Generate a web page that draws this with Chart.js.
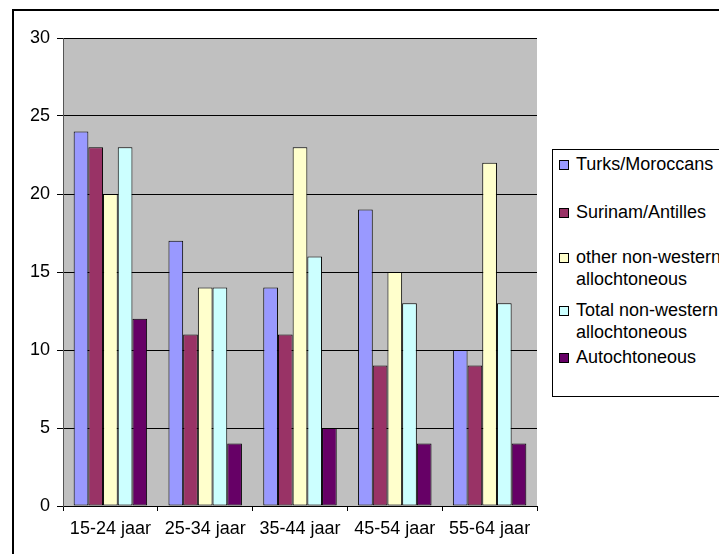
<!DOCTYPE html>
<html>
<head>
<meta charset="utf-8">
<script src="https://cdn.jsdelivr.net/npm/chart.js@4"></script>
<style>
  html, body { margin: 0; padding: 0; background: #fff; }
  #wrap { position: relative; width: 719px; height: 554px; overflow: hidden; }
  #frame { position: absolute; left: 12px; top: 9px; width: 740px; height: 600px;
           border: 2px solid #000; box-sizing: border-box; }
  #chart { position: absolute; left: 0; top: 0; }
  #legend { position: absolute; left: 552px; top: 149px; width: 200px; height: 248px;
            border: 1px solid #000; box-sizing: border-box; background: #fff;
            font-family: 'Liberation Sans', Arial, sans-serif; font-size: 18px; color: #000; }
  .item { position: absolute; left: 23px; line-height: 22px; white-space: nowrap; }
  .sw { position: absolute; left: -17px; top: 7px; width: 8px; height: 8px;
        border: 1px solid #000; }
</style>
</head>
<body>
<div id="wrap">
  <div id="frame"></div>
  <canvas id="chart" width="719" height="554"></canvas>
  <div id="legend"></div>
</div>
<script>
// Age groups along the x axis
const categories = ['15-24 jaar', '25-34 jaar', '35-44 jaar', '45-54 jaar', '55-64 jaar'];

// Percentages per group
const turksMoroccans   = [24, 17, 14, 19, 10];
const surinamAntilles  = [23, 11, 11,  9,  9];
const otherNonWestern  = [20, 14, 23, 15, 22];
const totalNonWestern  = [23, 14, 16, 13, 13];
const autochtoneous    = [12,  4,  5,  4,  4];

// Legend labels (multi-line entries split into lines)
const seriesLabels = [
  ['Turks/Moroccans'],
  ['Surinam/Antilles'],
  ['other non-western', 'allochtoneous'],
  ['Total non-western', 'allochtoneous'],
  ['Autochtoneous']
];
const seriesColors = ['#9999FF', '#993366', '#FFFFCC', '#CCFFFF', '#660066'];
const seriesValues = [turksMoroccans, surinamAntilles, otherNonWestern, totalNonWestern, autochtoneous];

// Y axis range
const yMin = 0, yMax = 30, yStep = 5;

const FONT = "'Liberation Sans', Arial, sans-serif";

// Grey plot-area background
const plotBackground = {
  id: 'plotBackground',
  beforeDraw(chart) {
    const { ctx, chartArea: a } = chart;
    ctx.save();
    ctx.fillStyle = '#C0C0C0';
    ctx.fillRect(a.left, a.top, a.right - a.left, a.bottom - a.top);
    ctx.restore();
  }
};

const datasets = seriesValues.map((vals, i) => ({
  label: seriesLabels[i].join(' '),
  data: vals,
  backgroundColor: seriesColors[i],
  borderColor: '#000',
  borderWidth: 1,
  borderSkipped: false,
  categoryPercentage: 0.775,
  barPercentage: 1.0
}));

new Chart(document.getElementById('chart'), {
  type: 'bar',
  data: { labels: categories, datasets },
  options: {
    responsive: false,
    animation: false,
    layout: { padding: { left: 12, top: 38, right: 182, bottom: 8 } },
    plugins: { legend: { display: false }, tooltip: { enabled: false } },
    scales: {
      x: {
        grid: { drawOnChartArea: false, drawTicks: true, tickLength: 5, color: '#000', offset: true },
        border: { color: '#000', width: 1 },
        ticks: { color: '#000', font: { family: FONT, size: 18 }, padding: 7, maxRotation: 0 },
        afterFit(s) { s.height = 40; }
      },
      y: {
        min: yMin, max: yMax,
        grid: { color: '#000', lineWidth: 1, tickLength: 6 },
        border: { color: '#555', width: 1 },
        ticks: { stepSize: yStep, color: '#000', font: { family: FONT, size: 18 }, padding: 7 },
        afterFit(s) { s.width = 51; }
      }
    }
  },
  plugins: [plotBackground]
});

// Boxed legend at the right
const legend = document.getElementById('legend');
const itemTops = [3, 51, 96, 149, 196];
seriesLabels.forEach((lines, i) => {
  const item = document.createElement('div');
  item.className = 'item';
  item.style.top = itemTops[i] + 'px';
  const sw = document.createElement('span');
  sw.className = 'sw';
  sw.style.background = seriesColors[i];
  item.appendChild(sw);
  lines.forEach((line, j) => {
    if (j > 0) item.appendChild(document.createElement('br'));
    item.appendChild(document.createTextNode(line));
  });
  legend.appendChild(item);
});
</script>
</body>
</html>
